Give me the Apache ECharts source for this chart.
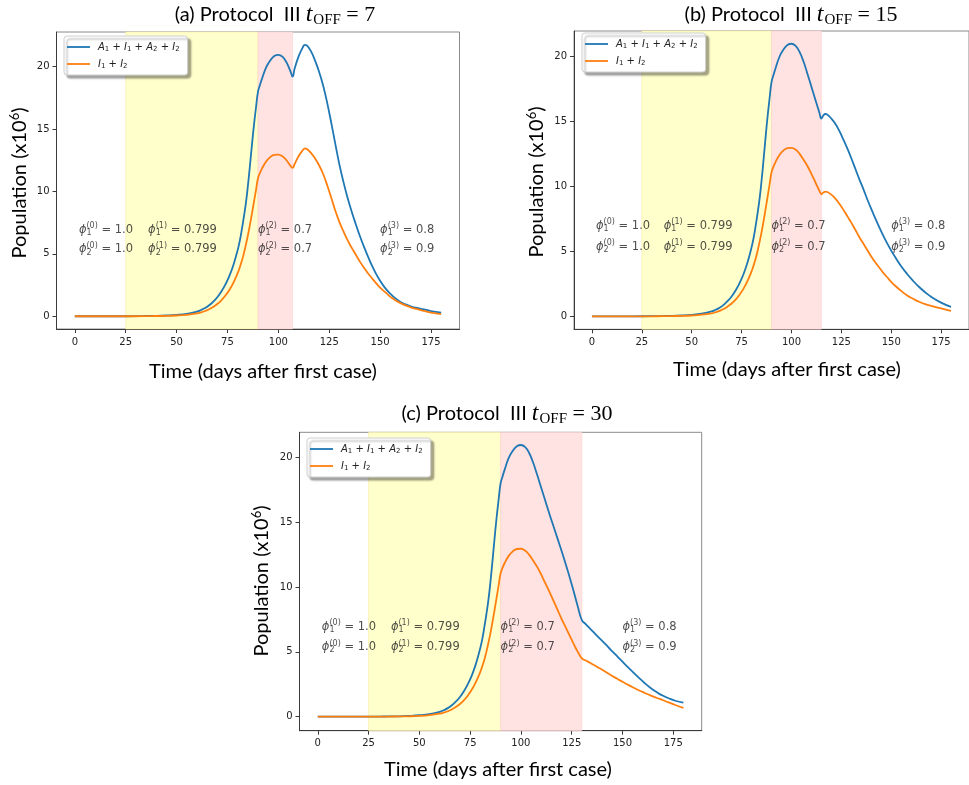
<!DOCTYPE html>
<html><head><meta charset="utf-8">
<script src="https://cdn.jsdelivr.net/npm/echarts@6/dist/echarts.min.js"></script>
<style>html,body{margin:0;padding:0;background:#fff}#c{width:969px;height:785px}</style>
</head><body><div id="c"></div>
<script>
// ---------- data ----------
const xTicks = [0, 25, 50, 75, 100, 125, 150, 175];
const yTicks = [0, 5, 10, 15, 20];
const panelLetters = ['(a)', '(b)', '(c)'];
const tOff = [7, 15, 30];
const lockdownStart = 25;
const relaxStart = 90;
const nameTotal = 'A1+I1+A2+I2';
const nameInfected = 'I1+I2';

// curve shared by all protocols until the switch at day 100+tOFF
const commonDays = [0,10,20,30,35,40,45,50,55,60,62,64,66,68,70,72,74,76,78,80,81,82,83,84,85,86,87,88,89,90,91,92,94,96,98,100,102,104,106,108,110,112,114,116,118,120,122,124,126,128];
const commonTotal = [0,0,0,0.01,0.02,0.03,0.06,0.11,0.2,0.37,0.5,0.66,0.88,1.17,1.52,1.98,2.55,3.25,4.15,5.3,6.0,6.9,7.9,9.0,10.4,12.0,13.7,15.3,16.7,18.0,18.55,19.05,19.95,20.5,20.85,20.95,20.8,20.35,19.6,18.65,17.65,16.65,15.65,14.7,13.75,12.8,11.8,10.75,9.65,8.5];
const commonInfected = [0,0,0,0,0.01,0.02,0.03,0.06,0.12,0.23,0.31,0.42,0.56,0.75,0.98,1.28,1.66,2.13,2.72,3.45,3.9,4.4,5.0,5.7,6.45,7.3,8.2,9.15,10.1,11.06,11.5,11.85,12.4,12.75,12.93,12.95,12.82,12.5,12.05,11.55,10.95,10.3,9.65,8.95,8.25,7.55,6.9,6.25,5.6,5.0];

// tails after the switch
const tailDaysA = [107,108,110,112,113,114,116,118,120,122,124,126,128,130,132,134,136,138,140,142,144,146,148,150,153,156,160,165,170,175,180];
const tailTotalA = [19.2,19.85,20.85,21.55,21.75,21.7,21.25,20.5,19.6,18.5,17.1,15.5,13.8,12.15,10.75,9.5,8.4,7.4,6.45,5.6,4.8,4.05,3.4,2.85,2.15,1.65,1.15,0.8,0.6,0.42,0.3];
const tailInfectedA = [11.9,12.2,12.85,13.3,13.45,13.4,13.1,12.65,12.1,11.4,10.5,9.5,8.45,7.55,6.8,6.1,5.5,4.95,4.4,3.9,3.45,3.05,2.65,2.3,1.85,1.45,1.05,0.72,0.5,0.3,0.18];

const tailDaysB = [115,116,117,118,120,122,124,126,128,130,132,134,136,138,140,142,144,146,148,150,152,155,158,161,164,167,170,175,180];
const tailTotalB = [15.2,15.45,15.55,15.5,15.2,14.8,14.25,13.6,12.9,12.15,11.35,10.55,9.8,9.0,8.25,7.55,6.85,6.2,5.6,5.05,4.55,3.85,3.25,2.72,2.25,1.85,1.5,1.05,0.72];
const tailInfectedB = [9.4,9.52,9.58,9.55,9.35,9.05,8.65,8.2,7.7,7.2,6.65,6.1,5.6,5.1,4.6,4.15,3.75,3.35,3.0,2.65,2.35,1.95,1.6,1.35,1.12,0.94,0.8,0.6,0.42];

const tailDaysC = [130,132,134,136,138,140,142,144,146,148,150,152,155,158,161,164,167,170,173,176,180];
const tailTotalC = [7.45,7.12,6.8,6.48,6.16,5.85,5.53,5.2,4.88,4.56,4.24,3.92,3.46,3.01,2.58,2.2,1.88,1.61,1.4,1.23,1.08];
const tailInfectedC = [4.5,4.33,4.16,3.98,3.8,3.62,3.43,3.24,3.05,2.87,2.69,2.52,2.27,2.04,1.83,1.63,1.44,1.27,1.09,0.9,0.68];

// phase annotations
const phiDays = [2, 36, 90, 150];
const phiPhase = ['0', '1', '2', '3'];
const phi1Values = ['1.0', '0.799', '0.7', '0.8'];
const phi2Values = ['1.0', '0.799', '0.7', '0.9'];
const phiRowLevels = [6.95, 5.35];

// ---------- layout ----------
const grids = [
  {left: 56.5, top: 32, width: 403, height: 297},
  {left: 574, top: 31, width: 405, height: 298.3},
  {left: 299.5, top: 432.3, width: 402.2, height: 298.4}
];
const yRanges = [[-1.02, 22.78], [-1.0, 21.93], [-1.08, 21.93]];
const legendPos = [[64, 36], [582, 33], [307, 438]];
const titlePos = [[275, 15], [791, 15], [507, 414]];
const xNamePos = [[263, 372], [787, 370], [498, 770]];
const yNamePos = [[20, 183], [537, 182], [262, 581]];

const tails = [
  [tailDaysA, tailTotalA, tailInfectedA],
  [tailDaysB, tailTotalB, tailInfectedB],
  [tailDaysC, tailTotalC, tailInfectedC]
];

function buildSeries(i, which) {
  const sw = 100 + tOff[i];
  const base = which === 'total' ? commonTotal : commonInfected;
  const pts = [];
  commonDays.forEach((d, k) => { if (d < sw) pts.push([d, base[k]]); });
  const t = tails[i];
  const tv = which === 'total' ? t[1] : t[2];
  t[0].forEach((d, k) => pts.push([d, tv[k]]));
  return pts;
}

const txt = '#222';
const axisColor = '#3a3a3a';

const phiRich = {
  p: {fontFamily: 'DejaVu Sans', fontStyle: 'italic', fontSize: 11.5, color: txt},
  b: {fontFamily: 'DejaVu Sans', fontSize: 8, width: 0, padding: [6, 0, 0, 0], color: txt},
  u: {fontFamily: 'DejaVu Sans', fontSize: 8, padding: [0, 0, 7, 0], color: txt},
  t: {fontFamily: 'DejaVu Sans', fontSize: 11.5, color: txt}
};

const legendRich = {
  i: {fontFamily: 'DejaVu Sans', fontStyle: 'italic', fontSize: 10, color: txt},
  s: {fontFamily: 'DejaVu Sans', fontSize: 7, padding: [5, 0, 0, 0], color: txt},
  n: {fontFamily: 'DejaVu Sans', fontSize: 10, color: txt}
};

const xAxes = [], yAxes = [], series = [], legends = [], graphics = [];

grids.forEach((g, i) => {
  xAxes.push({
    gridIndex: i, type: 'value', min: -9, max: 189,
    axisLine: {show: true, onZero: false, lineStyle: {color: axisColor, width: 1}},
    axisTick: {show: true, customValues: xTicks, length: 4, lineStyle: {color: axisColor}},
    axisLabel: {customValues: xTicks, fontFamily: 'DejaVu Sans', fontSize: 10, color: txt, margin: 8},
    splitLine: {show: false}
  });
  yAxes.push({
    gridIndex: i, type: 'value', min: yRanges[i][0], max: yRanges[i][1],
    axisLine: {show: true, onZero: false, lineStyle: {color: axisColor, width: 1}},
    axisTick: {show: true, customValues: yTicks, length: 4, lineStyle: {color: axisColor}},
    axisLabel: {customValues: yTicks, fontFamily: 'DejaVu Sans', fontSize: 10, color: txt, margin: 7},
    splitLine: {show: false}
  });
  // shaded phases
  series.push({
    type: 'line', xAxisIndex: i, yAxisIndex: i, data: [], z: 1, silent: true,
    markArea: {
      silent: true,
      data: [
        [{xAxis: lockdownStart, itemStyle: {color: '#ffffcc', borderColor: 'rgba(250,230,150,0.6)', borderWidth: 0.8}}, {xAxis: relaxStart}],
        [{xAxis: relaxStart, itemStyle: {color: '#ffe2e2', borderColor: 'rgba(255,200,200,0.6)', borderWidth: 0.8}}, {xAxis: 100 + tOff[i]}]
      ]
    }
  });
  series.push({
    name: nameTotal, type: 'line', xAxisIndex: i, yAxisIndex: i, z: 3,
    data: buildSeries(i, 'total'), showSymbol: false, symbol: 'none', smooth: 0.45,
    lineStyle: {color: '#1f77b4', width: 1.8}, itemStyle: {color: '#1f77b4'}
  });
  series.push({
    name: nameInfected, type: 'line', xAxisIndex: i, yAxisIndex: i, z: 3,
    data: buildSeries(i, 'inf'), showSymbol: false, symbol: 'none', smooth: 0.45,
    lineStyle: {color: '#ff7f0e', width: 1.8}, itemStyle: {color: '#ff7f0e'}
  });
  // annotations
  const ann = [];
  phiDays.forEach((d, k) => {
    ann.push({value: [d, phiRowLevels[0]], lab: '{p|ϕ}{b|1}{u|(' + phiPhase[k] + ')}{t| = ' + phi1Values[k] + '}'});
    ann.push({value: [d, phiRowLevels[1]], lab: '{p|ϕ}{b|2}{u|(' + phiPhase[k] + ')}{t| = ' + phi2Values[k] + '}'});
  });
  series.push({
    type: 'scatter', xAxisIndex: i, yAxisIndex: i, z: 4, silent: true,
    symbolSize: 0, itemStyle: {color: 'rgba(0,0,0,0)'},
    data: ann.map(a => ({value: a.value, label: {formatter: a.lab}})),
    label: {show: true, position: 'right', distance: 0, rich: phiRich}
  });
  legends.push({
    left: legendPos[i][0], top: legendPos[i][1], orient: 'vertical',
    data: [nameTotal, nameInfected], selectedMode: false,
    icon: 'rect', itemWidth: 23, itemHeight: 1.8, itemGap: 6,
    backgroundColor: '#fff', borderColor: '#cfcfcf', borderWidth: 1, borderRadius: 3,
    shadowColor: 'rgba(0,0,0,0.35)', shadowBlur: 2, shadowOffsetX: 3, shadowOffsetY: 3,
    padding: [6, 8, 5, 3],
    formatter: n => n === nameTotal
      ? '{i|A}{s|1}{n| + }{i|I}{s|1}{n| + }{i|A}{s|2}{n| + }{i|I}{s|2}'
      : '{i|I}{s|1}{n| + }{i|I}{s|2}',
    textStyle: {rich: legendRich, padding: [0, 0, 0, 3]}
  });
  graphics.push({
    type: 'text', x: titlePos[i][0], y: titlePos[i][1], z: 10,
    style: {
      text: '{n|' + panelLetters[i] + ' Protocol  III }{t|t}{s|OFF}{e| = ' + tOff[i] + '}',
      align: 'center', verticalAlign: 'middle',
      rich: {
        n: {fontFamily: 'Lato', fontSize: 20, fill: '#000'},
        t: {fontFamily: 'Liberation Serif', fontStyle: 'italic', fontSize: 24, fill: '#000'},
        s: {fontFamily: 'Liberation Serif', fontSize: 15, padding: [11, 0, 0, 1], fill: '#000'},
        e: {fontFamily: 'Liberation Serif', fontSize: 22, fill: '#000'}
      }
    }
  });
  graphics.push({
    type: 'text', x: xNamePos[i][0], y: xNamePos[i][1], z: 10,
    style: {text: 'Time (days after first case)', fontFamily: 'Lato', fontSize: 20, fill: '#000', align: 'center', verticalAlign: 'middle'}
  });
  graphics.push({
    type: 'text', x: yNamePos[i][0], y: yNamePos[i][1], rotation: Math.PI / 2, z: 10,
    style: {
      text: '{n|Population (x10}{u|6}{n|)}', align: 'center', verticalAlign: 'middle',
      rich: {
        n: {fontFamily: 'Lato', fontSize: 20, fill: '#000'},
        u: {fontFamily: 'Lato', fontSize: 13, padding: [0, 0, 10, 0], fill: '#000'}
      }
    }
  });
});

const chart = echarts.init(document.getElementById('c'), null, {renderer: 'canvas'});
chart.setOption({
  animation: false,
  backgroundColor: '#fff',
  grid: grids.map(g => Object.assign({show: true, borderColor: '#8a8a8a', borderWidth: 1, backgroundColor: 'transparent'}, g)),
  xAxis: xAxes,
  yAxis: yAxes,
  legend: legends,
  series: series,
  graphic: graphics
});
</script>
</body></html>
